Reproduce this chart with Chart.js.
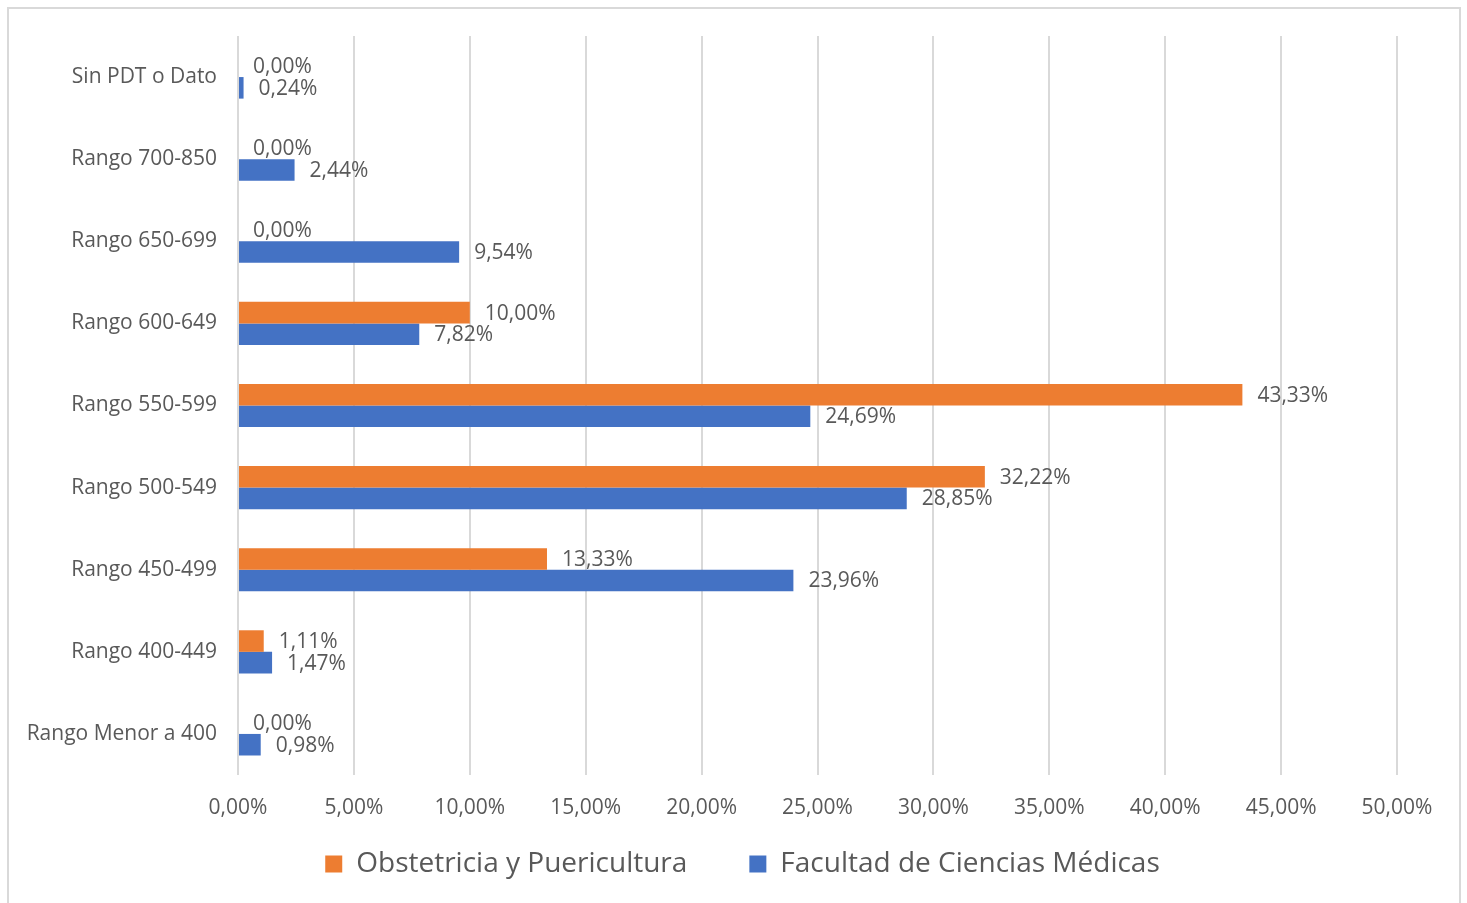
<!DOCTYPE html>
<html>
<head>
<meta charset="utf-8">
<script src="https://cdn.jsdelivr.net/npm/chart.js@4"></script>
<style>
  html, body { margin: 0; padding: 0; background: #fff; }
  #wrap { position: relative; width: 1467px; height: 903px; }
</style>
</head>
<body>
<div id="wrap"><canvas id="chart" width="1467" height="903"></canvas></div>
<script>
// categorias de arriba hacia abajo
const categorias = ['Sin PDT o Dato', 'Rango 700-850', 'Rango 650-699', 'Rango 600-649', 'Rango 550-599',
                    'Rango 500-549', 'Rango 450-499', 'Rango 400-449', 'Rango Menor a 400'];
const obstetricia = [0, 0, 0, 10.00, 43.33, 32.22, 13.33, 1.11, 0];
const facultad = [0.24, 2.44, 9.54, 7.82, 24.69, 28.85, 23.96, 1.47, 0.98];
const serieNombres = ['Obstetricia y Puericultura', 'Facultad de Ciencias Médicas'];

const GRIS = '#595959';
const FONT = "'Open Sans', 'Noto Sans', sans-serif";

const fmt = v => Number(v).toFixed(2).replace('.', ',') + '%';

// etiquetas al final de cada barra
const etiquetas = {
    id: 'etiquetas',
    afterDatasetsDraw(chart) {
        const ctx = chart.ctx;
        ctx.save();
        ctx.font = `21px ${FONT}`;
        ctx.fillStyle = GRIS;
        ctx.textAlign = 'left';
        ctx.textBaseline = 'middle';
        chart.data.datasets.forEach((ds, i) => {
            chart.getDatasetMeta(i).data.forEach((bar, j) => {
                ctx.fillText(fmt(ds.data[j]), bar.x + 15, bar.y + 1);
            });
        });
        ctx.restore();
    }
};

// marco gris alrededor del grafico
const marco = {
    id: 'marco',
    beforeDraw(chart) {
        const ctx = chart.ctx;
        ctx.save();
        ctx.strokeStyle = '#d9d9d9';
        ctx.lineWidth = 2;
        ctx.strokeRect(8, 8, 1452, 930);
        ctx.restore();
    }
};

// recoloca la leyenda (centrada como en el original)
const leyendaPos = {
    id: 'leyendaPos',
    afterLayout(chart) {
        const lg = chart.legend;
        lg.left = 88; lg.right = 1397; lg.width = 1309;
        lg.top = 788; lg.bottom = 903; lg.height = 115;
    }
};

new Chart(document.getElementById('chart'), {
    type: 'bar',
    data: {
        labels: categorias,
        datasets: [
            { label: serieNombres[0], data: obstetricia, backgroundColor: '#ED7D31', borderWidth: 0 },
            { label: serieNombres[1], data: facultad, backgroundColor: '#4472C4', borderWidth: 0 }
        ]
    },
    options: {
        indexAxis: 'y',
        responsive: false,
        animation: false,
        categoryPercentage: 0.525,
        barPercentage: 1,
        layout: { padding: { left: 8, right: 70, top: 36, bottom: 20 } },
        scales: {
            x: {
                min: 0, max: 50,
                ticks: { stepSize: 5, callback: v => fmt(v), color: GRIS, font: { family: FONT, size: 21 }, padding: 20, maxRotation: 0 },
                grid: { color: '#d9d9d9', lineWidth: 2, drawTicks: false },
                border: { display: false },
                afterFit: s => { s.height = 43; }
            },
            y: {
                ticks: { color: GRIS, font: { family: FONT, size: 21 }, padding: 21 },
                grid: { display: false, drawTicks: false },
                border: { display: false },
                afterFit: s => { s.width = 230; }
            }
        },
        plugins: {
            legend: {
                position: 'bottom',
                maxHeight: 65,
                labels: { color: GRIS, font: { family: FONT, size: 28 }, boxWidth: 17, boxHeight: 17, padding: 62 }
            },
            tooltip: { enabled: false }
        }
    },
    plugins: [marco, leyendaPos, etiquetas]
});
</script>
</body>
</html>
